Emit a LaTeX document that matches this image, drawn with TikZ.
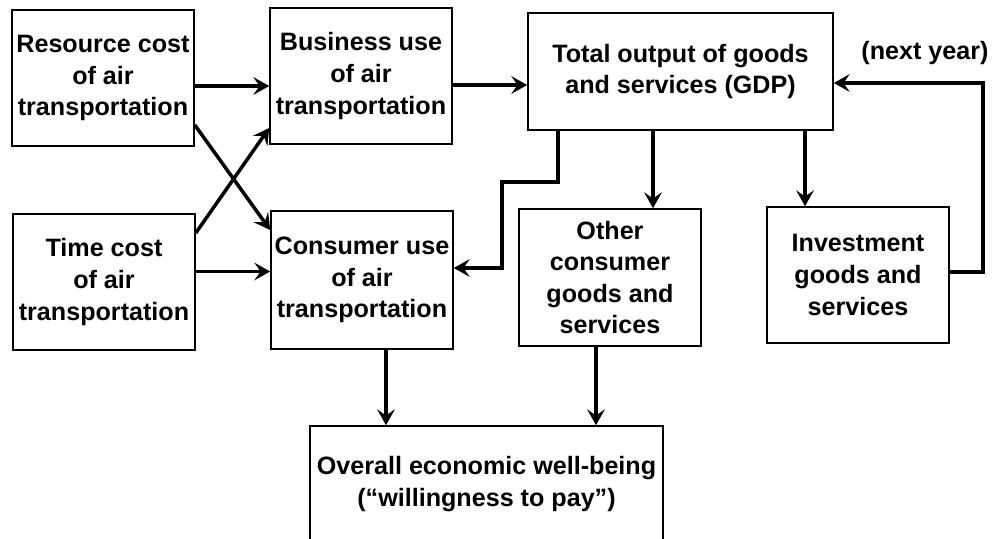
\documentclass[tikz,border=0pt]{standalone}
\usepackage{fontspec}
\setmainfont{Liberation Sans}
\usetikzlibrary{arrows.meta}

\begin{document}
\begin{tikzpicture}[
  blk/.style={draw,line width=0.9pt,align=center,inner sep=0pt,
    font=\fontsize{14.3}{18}\selectfont\bfseries},
  arr/.style={line width=2pt,-{Stealth[length=9pt,width=10pt,inset=3.5pt]}}]

\useasboundingbox (0,0) rectangle (19.86,10.76);

\node[blk,minimum width=3.64cm,minimum height=2.72cm] (rc) at (2.06,9.2) {Resource cost\\of air\\transportation};
\node[blk,minimum width=3.64cm,minimum height=2.72cm] (tc) at (2.08,5.12) {Time cost\\of air\\transportation};
\node[blk,minimum width=3.64cm,minimum height=2.72cm] (bu) at (7.22,9.24) {Business use\\of air\\transportation};
\node[blk,minimum width=3.64cm,minimum height=2.76cm] (cu) at (7.24,5.16) {Consumer use\\of air\\transportation};
\node[blk,minimum width=6.1cm,minimum height=2.34cm] (gdp) at (13.61,9.33) {Total output of goods\\and services (GDP)};
\node[blk,minimum width=3.64cm,minimum height=2.74cm] (oc) at (12.2,5.21) {Other\\consumer\\goods and\\services};
\node[blk,minimum width=3.64cm,minimum height=2.72cm] (inv) at (17.16,5.26) {Investment\\goods and\\services};
\node[blk,minimum width=7.06cm,minimum height=2.32cm] (wb) at (9.73,1.08) {Overall economic well-being\\(“willingness to pay”)};

\node[font=\fontsize{14.3}{18}\selectfont\bfseries] (ny) at (18.5,9.7) {(next year)};

\draw[arr] (rc.east |- 0,9.04) -- (bu.west |- 0,9.04);
\draw[arr] (bu.east |- 0,9.06) -- (gdp.west |- 0,9.06);
\draw[arr] ([yshift=-0.94cm]rc.east) -- ([yshift=1.0cm]cu.west);
\draw[arr] ([yshift=0.98cm]tc.east) -- ([yshift=-1.04cm]bu.west);
\draw[arr] (tc.east |- 0,5.33) -- (cu.west |- 0,5.33);

\draw[arr] (gdp.south -| 11.16,0) -- (11.16,7.12) -- (10.04,7.12) -- (10.04,5.4) -- (cu.east |- 0,5.4);
\draw[arr] (gdp.south -| 13.06,0) -- (oc.north -| 13.06,0);
\draw[arr] (gdp.south -| 16.1,0) -- (inv.north -| 16.1,0);
\draw[arr] (inv.east |- 0,5.32) -- (19.66,5.32) -- (19.66,9.1) -- (gdp.east |- 0,9.1);

\draw[arr] (cu.south -| 7.72,0) -- (wb.north -| 7.72,0);
\draw[arr] (oc.south -| 11.92,0) -- (wb.north -| 11.92,0);

\end{tikzpicture}
\end{document}
